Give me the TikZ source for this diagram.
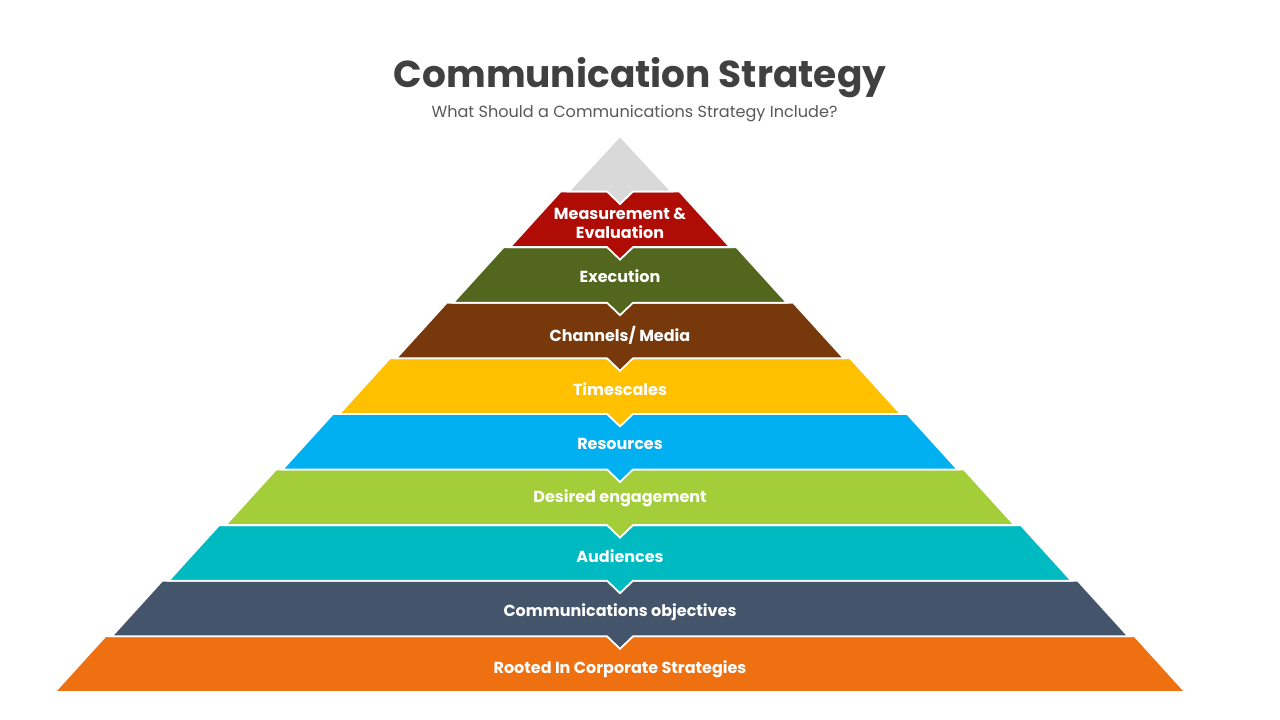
\documentclass[tikz,border=0pt]{standalone}
\usepackage{fontspec}
\setmainfont{Poppins}
\definecolor{titlegray}{HTML}{404040}
\definecolor{subgray}{HTML}{595959}
\definecolor{lgray}{HTML}{D9D9D9}
\definecolor{lred}{HTML}{B00C06}
\definecolor{lgreen}{HTML}{53661E}
\definecolor{lbrown}{HTML}{77380C}
\definecolor{lyellow}{HTML}{FFC000}
\definecolor{lblue}{HTML}{00B0F0}
\definecolor{llime}{HTML}{A3CD39}
\definecolor{lteal}{HTML}{00BAC2}
\definecolor{lslate}{HTML}{44546A}
\definecolor{lorange}{HTML}{EE7011}
\tikzset{
  layershape/.style={fill=#1, draw=white, line width=1.8pt, line join=miter},
  layerlabel/.style={text=white, font=\fontsize{16}{19}\selectfont\bfseries, anchor=base, align=center, inner sep=0pt},
}
\newcommand{\pyrlayer}[3]{%
  \pgfmathsetmacro{\lyT}{191.5+55.6*#1}%
  \pgfmathsetmacro{\lyB}{\lyT+55.6}%
  \pgfmathsetmacro{\lwT}{59.5+56.9*#1}%
  \pgfmathsetmacro{\lwB}{\lwT+50.5}%
  \pgfmathsetmacro{\lyN}{\lyB+12.5}%
  \ifnum#3=1
    \path[layershape=#2] (620-\lwT,\lyT) -- (620+\lwT,\lyT) -- (620+\lwB,\lyB) -- (633,\lyB) -- (620,\lyN) -- (607,\lyB) -- (620-\lwB,\lyB) -- cycle;
  \else
    \path[layershape=#2] (620-\lwT,\lyT) -- (620+\lwT,\lyT) -- (620+\lwB,\lyB) -- (620-\lwB,\lyB) -- cycle;
  \fi
}
\begin{document}
\begin{tikzpicture}[x=1pt,y=-1pt]
\useasboundingbox[fill=white] (0,0) rectangle (1280,720);
% layers, bottom first so notches overlap the layer below
\pyrlayer{8}{lorange}{0}
\pyrlayer{7}{lslate}{1}
\pyrlayer{6}{lteal}{1}
\pyrlayer{5}{llime}{1}
\pyrlayer{4}{lblue}{1}
\pyrlayer{3}{lyellow}{1}
\pyrlayer{2}{lbrown}{1}
\pyrlayer{1}{lgreen}{1}
\pyrlayer{0}{lred}{1}
\path[layershape=lgray] (620,136) -- (671.5,191.5) -- (633,191.5) -- (620,204) -- (607,191.5) -- (568.5,191.5) -- cycle;
% titles
\node[anchor=base, text=titlegray, font=\fontsize{37.5}{44}\selectfont\bfseries, inner sep=0pt] (title) at (640,87) {Communication Strategy};
\node[anchor=base, text=subgray, font=\fontsize{16.1}{19}\selectfont, inner sep=0pt] (subtitle) at (634.5,117) {What Should a Communications Strategy Include?};
% labels
\node[layerlabel] (l0) at (620,238.5) {Measurement \&\\Evaluation};
\node[layerlabel] (l1) at (620,282.5) {Execution};
\node[layerlabel] (l2) at (620,341.5) {Channels/ Media};
\node[layerlabel] (l3) at (620,395.5) {Timescales};
\node[layerlabel] (l4) at (620,449.5) {Resources};
\node[layerlabel] (l5) at (620,502.5) {Desired engagement};
\node[layerlabel] (l6) at (620,562.5) {Audiences};
\node[layerlabel] (l7) at (620,616.5) {Communications objectives};
\node[layerlabel] (l8) at (620,673.5) {Rooted In Corporate Strategies};
\end{tikzpicture}
\end{document}
